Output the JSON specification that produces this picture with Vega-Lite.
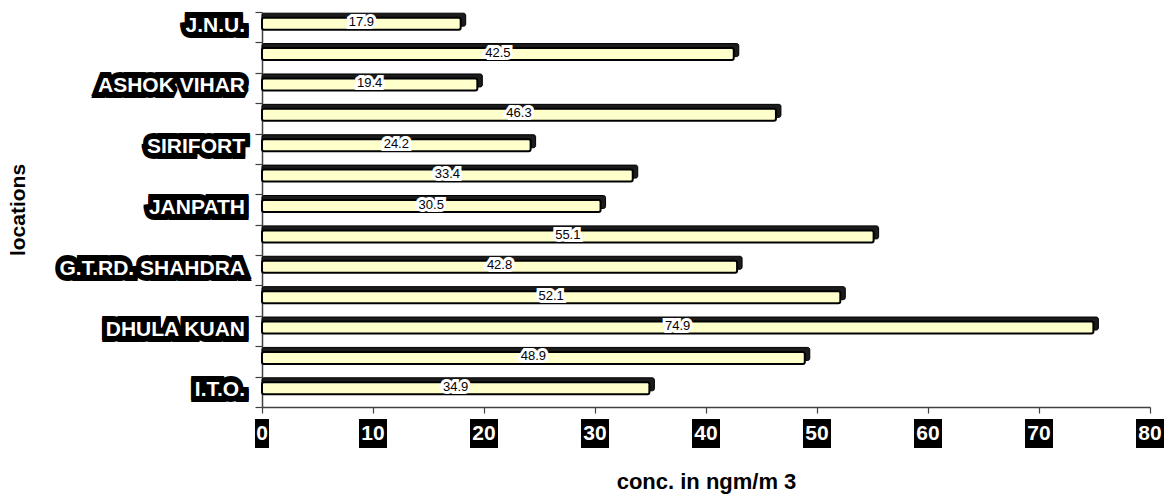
{
  "$schema": "https://vega.github.io/schema/vega-lite/v6.json",
  "width": 888,
  "height": 395,
  "autosize": {"type": "none"},
  "padding": {"left": 262, "top": 12, "right": 14, "bottom": 88},
  "background": "white",
  "config": {"view": {"stroke": null}, "font": "Liberation Sans"},
  "datasets": {
    "bars": [
      {"bar": 1, "site": "J.N.U.", "value": 17.9},
      {"bar": 2, "site": "", "value": 42.5},
      {"bar": 3, "site": "ASHOK VIHAR", "value": 19.4},
      {"bar": 4, "site": "", "value": 46.3},
      {"bar": 5, "site": "SIRIFORT", "value": 24.2},
      {"bar": 6, "site": "", "value": 33.4},
      {"bar": 7, "site": "JANPATH", "value": 30.5},
      {"bar": 8, "site": "", "value": 55.1},
      {"bar": 9, "site": "G.T.RD. SHAHDRA", "value": 42.8},
      {"bar": 10, "site": "", "value": 52.1},
      {"bar": 11, "site": "DHULA KUAN", "value": 74.9},
      {"bar": 12, "site": "", "value": 48.9},
      {"bar": 13, "site": "I.T.O.", "value": 34.9}
    ],
    "ticks": [{"t": 0}, {"t": 10}, {"t": 20}, {"t": 30}, {"t": 40}, {"t": 50}, {"t": 60}, {"t": 70}, {"t": 80}]
  },
  "data": {"name": "bars"},
  "resolve": {"scale": {"x": "independent"}},
  "layer": [
    {
      "mark": {"type": "bar", "size": 13, "yOffset": -7.5, "xOffset": 5, "fill": "#1c1c1c", "stroke": "#000", "strokeWidth": 1, "cornerRadius": 2},
      "encoding": {
        "y": {"field": "bar", "type": "ordinal", "sort": "ascending",
          "scale": {"paddingInner": 0, "paddingOuter": 0},
          "axis": {"title": "locations", "labels": false, "tickBand": "extent", "tickSize": 7, "domainColor": "#404040", "tickColor": "#404040", "domainWidth": 1.5, "tickWidth": 1.2, "grid": false,
            "titleFont": "Liberation Sans", "titleFontSize": 21, "titleFontWeight": "bold", "titleColor": "black", "titlePadding": 226}},
        "x": {"field": "value", "type": "quantitative", "scale": {"domain": [0, 80]},
          "axis": {"title": "conc. in ngm/m 3", "labels": false, "tickCount": 8, "tickSize": 6, "grid": false, "domainColor": "#404040", "tickColor": "#404040", "domainWidth": 1.5, "tickWidth": 1.2,
            "titleFont": "Liberation Sans", "titleFontSize": 22, "titleFontWeight": "bold", "titleColor": "black", "titlePadding": 58}},
        "x2": {"datum": 0}
      }
    },
    {
      "mark": {"type": "bar", "size": 12, "yOffset": -3.5, "fill": "#FFFFCC", "stroke": "#000", "strokeWidth": 2, "cornerRadius": 2},
      "encoding": {
        "y": {"field": "bar", "type": "ordinal"},
        "x": {"field": "value", "type": "quantitative", "scale": {"domain": [0, 80]}, "axis": null},
        "x2": {"datum": 0}
      }
    },
    {
      "mark": {"type": "text", "fill": "white", "stroke": "white", "strokeWidth": 6, "strokeJoin": "miter", "strokeMiterLimit": 2, "fontSize": 13, "dy": -5, "align": "center", "baseline": "middle"},
      "encoding": {
        "y": {"field": "bar", "type": "ordinal"},
        "x": {"field": "value", "type": "quantitative", "scale": {"domain": [0, 160]}, "axis": null},
        "text": {"field": "value", "type": "quantitative", "format": ".1f"}
      }
    },
    {
      "mark": {"type": "text", "fill": "black", "fontSize": 13, "dy": -5, "align": "center", "baseline": "middle"},
      "encoding": {
        "y": {"field": "bar", "type": "ordinal"},
        "x": {"field": "value", "type": "quantitative", "scale": {"domain": [0, 160]}, "axis": null},
        "text": {"field": "value", "type": "quantitative", "format": ".1f"}
      }
    },
    {
      "mark": {"type": "text", "fill": "black", "stroke": "black", "strokeWidth": 10, "strokeJoin": "miter", "strokeMiterLimit": 2, "fontSize": 21, "fontWeight": "bold", "dx": -17, "dy": -2.5, "align": "right", "baseline": "middle"},
      "encoding": {
        "y": {"field": "bar", "type": "ordinal"},
        "x": {"datum": 0, "type": "quantitative", "scale": {"domain": [0, 80]}, "axis": null},
        "text": {"field": "site", "type": "nominal"}
      }
    },
    {
      "mark": {"type": "text", "fill": "black", "stroke": "black", "strokeWidth": 10, "strokeJoin": "miter", "strokeMiterLimit": 2, "fontSize": 21, "fontWeight": "bold", "dx": -17, "dy": -0.5, "align": "right", "baseline": "middle"},
      "encoding": {
        "y": {"field": "bar", "type": "ordinal"},
        "x": {"datum": 0, "type": "quantitative", "scale": {"domain": [0, 80]}, "axis": null},
        "text": {"field": "site", "type": "nominal"}
      }
    },
    {
      "mark": {"type": "text", "fill": "white", "fontSize": 21, "fontWeight": "bold", "dx": -17, "dy": -1.5, "align": "right", "baseline": "middle"},
      "encoding": {
        "y": {"field": "bar", "type": "ordinal"},
        "x": {"datum": 0, "type": "quantitative", "scale": {"domain": [0, 80]}, "axis": null},
        "text": {"field": "site", "type": "nominal"}
      }
    },
    {
      "data": {"name": "ticks"},
      "transform": [{"filter": "datum.t > 0"}],
      "mark": {"type": "tick", "orient": "vertical", "thickness": 28, "size": 29, "yOffset": 26.5, "color": "black", "opacity": 1},
      "encoding": {
        "x": {"field": "t", "type": "quantitative", "scale": {"domain": [0, 80]}, "axis": null},
        "y": {"value": "height"}
      }
    },
    {
      "data": {"name": "ticks"},
      "transform": [{"filter": "datum.t == 0"}],
      "mark": {"type": "tick", "orient": "vertical", "thickness": 14, "size": 29, "yOffset": 26.5, "color": "black", "opacity": 1},
      "encoding": {
        "x": {"field": "t", "type": "quantitative", "scale": {"domain": [0, 80]}, "axis": null},
        "y": {"value": "height"}
      }
    },
    {
      "data": {"name": "ticks"},
      "mark": {"type": "text", "fill": "white", "fontSize": 21, "fontWeight": "bold", "dy": 26.5, "align": "center", "baseline": "middle"},
      "encoding": {
        "x": {"field": "t", "type": "quantitative", "scale": {"domain": [0, 80]}, "axis": null},
        "y": {"value": "height"},
        "text": {"field": "t", "type": "quantitative"}
      }
    }
  ]
}
